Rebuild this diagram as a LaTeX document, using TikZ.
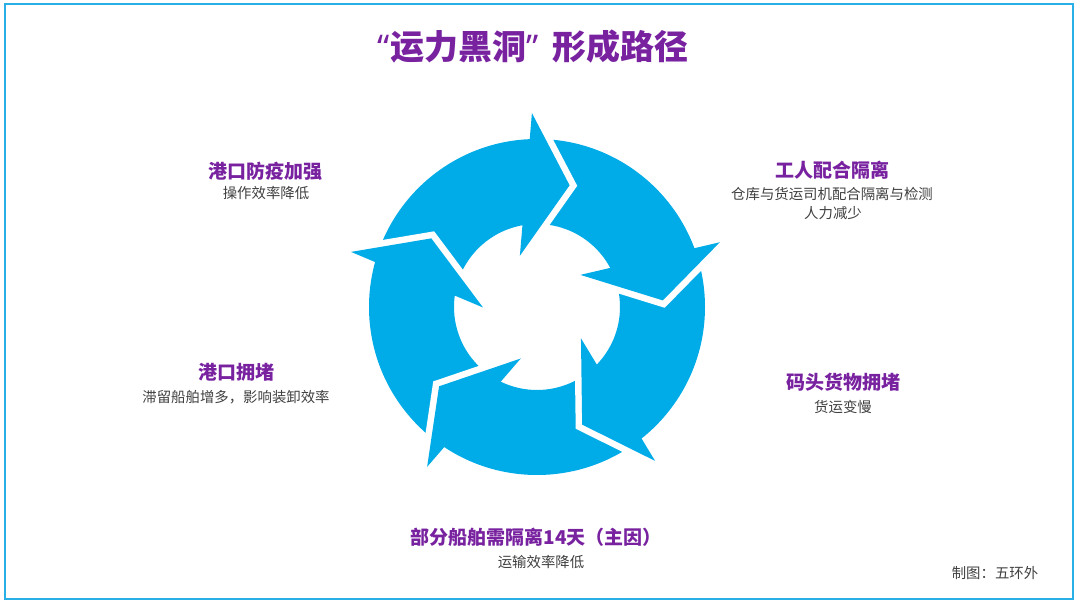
\documentclass[tikz,border=0pt]{standalone}
\usepackage{fontspec}
\setmainfont{Noto Sans CJK SC}
\newfontfamily\quotefont{Noto Sans}
\definecolor{ringblue}{RGB}{0,172,232}
\definecolor{headpurple}{RGB}{120,34,160}
\definecolor{notegray}{RGB}{64,64,64}
\definecolor{framecyan}{RGB}{40,175,230}
\tikzset{
  heading/.style={text=headpurple, font=\fontsize{19}{22}\selectfont\bfseries, inner sep=0pt},
  subline/.style={text=notegray, font=\fontsize{14.4}{17}\selectfont, inner sep=0pt},
  gapline/.style={draw=white, line width=13pt, line join=miter}
}
\begin{document}
\begin{tikzpicture}[x=1pt, y=1pt]
\useasboundingbox (0,0) rectangle (1080,605);
\draw[framecyan, line width=1.5pt] (5,6) rectangle (1073,601);
\node[text=headpurple, font=\fontsize{34}{40}\selectfont\bfseries, inner sep=0pt] (title) at (533,558) {{\quotefont“}运力黑洞{\quotefont”}\hspace{14pt}形成路径};
% ring of five arrows
\begin{scope}[shift={(537,298)}]
\fill[ringblue, even odd rule] (0,0) circle (168pt) (0,0) circle (83pt);
\foreach \a in {75,3,-69,-141,147} {
  \draw[gapline] ({\a+16.5}:194pt) -- (\a:126pt) -- ({\a+33.5}:54pt);
  \fill[ringblue] ({\a+16.5}:194pt) -- (\a:126pt) -- ({\a+33.5}:54pt) -- cycle;
}
\end{scope}
% labels round the ring
\node[heading] (worker) at (832,435) {工人配合隔离};
\node[subline] (workerA) at (832,411) {仓库与货运司机配合隔离与检测};
\node[subline] (workerB) at (833,392) {人力减少};
\node[heading] (dock) at (843,223) {码头货物拥堵};
\node[subline] (dockA) at (843,198) {货运变慢};
\node[heading] (ship) at (536,68) {部分船舶需隔离14天（主因）};
\node[subline] (shipA) at (541,43) {运输效率降低};
\node[heading] (jam) at (236,233) {港口拥堵};
\node[subline] (jamA) at (236,208) {滞留船舶增多，影响装卸效率};
\node[heading] (guard) at (265,434) {港口防疫加强};
\node[subline] (guardA) at (266,412) {操作效率降低};
\node[subline] (credit) at (995,32) {制图：五环外};
\end{tikzpicture}
\end{document}
